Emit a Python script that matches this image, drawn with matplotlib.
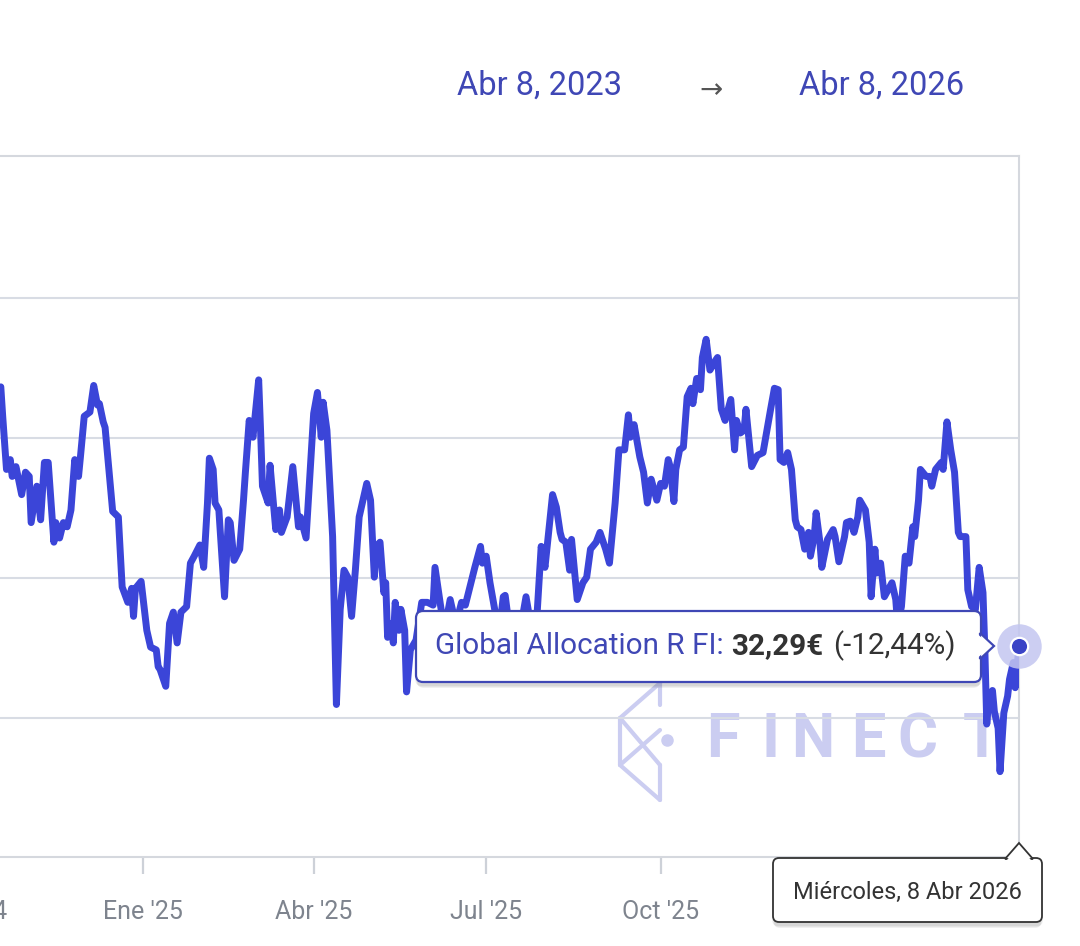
import matplotlib
matplotlib.use('Agg')
import matplotlib.pyplot as plt
import matplotlib.dates as mdates
import numpy as np
import pandas as pd
from matplotlib.patches import FancyBboxPatch, Polygon

plt.rcParams['font.family'] = ['Roboto', 'DejaVu Sans']

# ---------------- data ----------------
base_date = '2025-01-01'
day_offsets = [
    -81, -75, -74, -72, -70, -69, -67, -64, -62, -60, -59, -56, -54, -52, -50, -47, -46, -44, -42, -40,
    -38, -36, -34, -33, -31, -28, -26, -24, -23, -21, -20, -16, -13, -11, -8, -6, -5, -4, -1, 2,
    4, 7, 8, 9, 12, 14, 16, 18, 20, 23, 25, 27, 30, 32, 34, 35, 37, 38, 40, 43,
    45, 46, 48, 51, 53, 54, 56, 58, 61, 62, 63, 66, 67, 70, 72, 73, 76, 79, 82, 83,
    86, 90, 92, 94, 95, 97, 100, 102, 104, 106, 108, 110, 112, 114, 118, 120, 122, 123, 125, 127,
    128, 129, 131, 132, 133, 135, 136, 138, 139, 141, 144, 147, 150, 153, 154, 157, 159, 162, 165, 168,
    170, 175, 178, 179, 181, 183, 186, 188, 190, 191, 193, 198, 202, 204, 207, 210, 212, 216, 218, 220,
    221, 223, 225, 226, 229, 232, 234, 236, 239, 241, 244, 246, 249, 251, 254, 256, 257, 259, 262, 264,
    266, 268, 269, 271, 273, 275, 277, 278, 280, 281, 283, 285, 287, 289, 290, 292, 294, 295, 297, 299,
    302, 303, 305, 307, 310, 312, 313, 315, 317, 318, 321, 324, 327, 331, 333, 335, 336, 338, 340, 342,
    344, 345, 347, 349, 351, 352, 354, 355, 357, 358, 361, 364, 365, 367, 370, 371, 373, 375, 377, 378,
    381, 383, 384, 386, 387, 389, 391, 393, 395, 397, 398, 400, 402, 404, 406, 407, 409, 410, 413, 415,
    416, 418, 421, 422, 424, 426, 428, 430, 431, 434, 435, 437, 439, 441, 443, 444, 445, 446, 448, 449,
    451, 452, 454, 456, 457, 459, 460, 462,
]
nav_eur = [
    34.05, 34.14, 33.93, 33.55, 33.62, 33.50, 33.57, 33.37, 33.53, 33.50, 33.17, 33.43, 33.19, 33.60, 33.60, 33.03, 33.17, 33.06, 33.17, 33.14,
    33.26, 33.62, 33.50, 33.64, 33.93, 33.96, 34.15, 34.01, 34.02, 33.89, 33.85, 33.25, 33.21, 32.71, 32.60, 32.70, 32.50, 32.70, 32.75, 32.40,
    32.28, 32.26, 32.14, 32.12, 32.00, 32.45, 32.53, 32.31, 32.53, 32.57, 32.88, 32.93, 33.01, 32.85, 33.31, 33.63, 33.55, 33.31, 33.26, 32.64,
    33.19, 33.17, 32.90, 32.98, 33.33, 33.53, 33.90, 33.78, 34.19, 33.83, 33.43, 33.31, 33.58, 33.12, 33.26, 33.10, 33.21, 33.57, 33.14, 33.21,
    33.06, 33.95, 34.10, 33.78, 34.03, 33.83, 33.07, 31.87, 32.55, 32.83, 32.78, 32.50, 32.83, 33.21, 33.45, 33.33, 32.78, 33.00, 33.03, 32.67,
    32.74, 32.35, 32.45, 32.31, 32.60, 32.40, 32.55, 32.40, 31.96, 32.26, 32.33, 32.60, 32.60, 32.58, 32.85, 32.57, 32.40, 32.62, 32.44, 32.60,
    32.58, 32.85, 33.00, 32.88, 32.93, 32.74, 32.51, 32.40, 32.64, 32.65, 32.44, 32.33, 32.64, 32.48, 32.33, 33.00, 32.85, 33.37, 33.28, 33.10,
    33.05, 33.03, 32.83, 33.05, 32.62, 32.74, 32.78, 32.98, 33.03, 33.10, 32.98, 32.88, 33.31, 33.69, 33.69, 33.94, 33.78, 33.87, 33.64, 33.53,
    33.31, 33.48, 33.43, 33.33, 33.45, 33.43, 33.62, 33.57, 33.32, 33.55, 33.69, 33.71, 34.07, 34.13, 34.02, 34.20, 34.12, 34.35, 34.48, 34.26,
    34.33, 34.35, 33.98, 33.90, 34.05, 33.69, 33.90, 33.81, 33.83, 33.98, 33.57, 33.65, 33.67, 33.98, 34.13, 34.12, 33.62, 33.60, 33.67, 33.55,
    33.19, 33.14, 33.12, 32.98, 33.10, 32.93, 33.07, 33.24, 33.03, 32.85, 33.05, 33.12, 33.07, 32.89, 33.07, 33.17, 33.18, 33.10, 33.21, 33.33,
    33.26, 33.03, 32.64, 32.98, 32.81, 32.88, 32.64, 32.69, 32.74, 32.62, 32.44, 32.57, 32.93, 32.88, 33.14, 33.07, 33.33, 33.55, 33.50, 33.50,
    33.43, 33.55, 33.60, 33.55, 33.89, 33.69, 33.53, 33.10, 33.07, 33.07, 32.69, 32.57, 32.55, 32.85, 32.67, 32.26, 31.73, 31.90, 31.97, 31.82,
    31.70, 31.39, 31.81, 31.93, 32.05, 32.17, 31.99, 32.29,
]
fund_name = 'Global Allocation R FI'
last_price_label = '32,29€'
change_label = '(-12,44%)'
tooltip_date = 'Miércoles, 8 Abr 2026'
range_start = 'Abr 8, 2023'
range_end = 'Abr 8, 2026'
tick_dates = ['2024-10-01', '2025-01-01', '2025-04-01', '2025-07-01', '2025-10-01', '2026-01-01']
# the Jan '26 label sits under the date tooltip in the screenshot, so it is left blank
tick_labels = ["Oct '24", "Ene '25", "Abr '25", "Jul '25", "Oct '25", ""]
y_limits = (30.78, 35.79)
grid_values = [31.775, 32.775, 33.775, 34.775]

# ---------------- figure ----------------
W, H = 1080, 946
fig = plt.figure(figsize=(W / 100, H / 100), dpi=100)
fig.patch.set_facecolor('white')

dates = pd.Timestamp(base_date) + pd.to_timedelta(day_offsets, unit='D')
x_left = pd.Timestamp(base_date) - pd.Timedelta(days=100)
x_right = dates[-1]

# background overlay (watermark)
bg = fig.add_axes([0, 0, 1, 1], zorder=0)
bg.set_xlim(0, W); bg.set_ylim(H, 0); bg.axis('off')

# main axes (left edge lies outside the cropped screenshot)
left_px, right_px, top_px, bot_px = -46.6, 1019, 156, 857
ax = fig.add_axes([left_px / W, 1 - bot_px / H, (right_px - left_px) / W, (bot_px - top_px) / H], zorder=1)
ax.set_facecolor('none')
ax.set_xlim(x_left, x_right)
ax.set_ylim(*y_limits)

line_color = '#3b45d8'
ax.plot(dates, nav_eur, color=line_color, lw=5.0, solid_joinstyle='round',
        solid_capstyle='round', zorder=3)
ax.plot(dates[-1], nav_eur[-1], 'o', ms=32, color='#c3c6f0', mec='none', alpha=0.85,
        clip_on=False, zorder=4)
ax.plot(dates[-1], nav_eur[-1], 'o', ms=12.5, mfc='#3a43c6', mec='white', mew=1.6,
        clip_on=False, zorder=5)

ax.set_yticks(grid_values)
ax.yaxis.grid(True, color='#d8dce4', lw=1.5)
ax.xaxis.grid(False)
ax.tick_params(axis='y', length=0, labelleft=False)
ax.set_xticks([mdates.date2num(pd.Timestamp(d)) for d in tick_dates])
ax.set_xticklabels(tick_labels)
ax.tick_params(axis='x', length=12, width=1.6, color='#cdd1d8', labelsize=18,
               labelcolor='#7e848e', pad=19)
for s in ['top', 'right', 'bottom']:
    ax.spines[s].set_color('#d5d8de')
    ax.spines[s].set_linewidth(1.5)
ax.spines['left'].set_visible(False)
ax.set_axisbelow(True)

# watermark
wm = '#cbcdf1'
for ch, cx in zip('FINECT', [723, 770, 813, 868, 917, 982]):
    bg.text(cx, 740, ch, fontsize=44, color=wm, ha='center', va='center', fontweight='bold')
bg.plot([667], [740], 'o', ms=8, color=wm)
logo = [[(660, 683), (620, 718)], [(660, 683), (660, 705)], [(620, 718), (620, 765)],
        [(620, 718), (660, 765)], [(620, 765), (660, 800)], [(660, 765), (660, 800)],
        [(620, 765), (660, 730)]]
for seg in logo:
    bg.plot([seg[0][0], seg[1][0]], [seg[0][1], seg[1][1]], color=wm, lw=3, solid_capstyle='round')

# foreground overlay
fg = fig.add_axes([0, 0, 1, 1], zorder=2)
fg.set_xlim(0, W); fg.set_ylim(H, 0); fg.axis('off')

head_color = '#3f47b5'
fg.text(457, 86, range_start, fontsize=23.5, color=head_color, ha='left', va='center')
fg.text(711, 90, '→', fontsize=20, color='#555555', ha='center', va='center', family=['DejaVu Sans'])
fg.text(799, 86, range_end, fontsize=23.5, color=head_color, ha='left', va='center')


def shadow_box(x, y, w, h, r):
    for i, a in enumerate([0.05, 0.05, 0.06]):
        fg.add_patch(FancyBboxPatch((x - 1 + i, y + 2 + i), w + 2 - 2 * i, h + 2,
                                    boxstyle=f'round,pad=0,rounding_size={r}',
                                    fc='black', ec='none', alpha=a))


# value tooltip
bx, by, bw, bh = 416, 611, 565, 71
shadow_box(bx, by, bw, bh, 7)
fg.add_patch(FancyBboxPatch((bx, by), bw, bh, boxstyle='round,pad=0,rounding_size=7',
                            fc='white', ec=head_color, lw=1.6))
fg.add_patch(Polygon([(bx + bw - 1, 633), (bx + bw + 13, 646), (bx + bw - 1, 659)], closed=True,
                     fc='white', ec=head_color, lw=1.6))
fg.add_patch(Polygon([(bx + bw - 3, 634.5), (bx + bw + 10, 646), (bx + bw - 3, 657.5)], closed=True,
                     fc='white', ec='none'))

fig.canvas.draw()
renderer = fig.canvas.get_renderer()
fs = 21.3
t1 = fg.text(435, 646, fund_name + ':', fontsize=fs, color=head_color, ha='left', va='center')
e1 = t1.get_window_extent(renderer)
t2 = fg.text(e1.x1 + 8, 646, last_price_label, fontsize=fs, color='#333333', fontweight='bold',
             ha='left', va='center')
e2 = t2.get_window_extent(renderer)
fg.text(e2.x1 + 9, 646, change_label, fontsize=fs, color='#333333', ha='left', va='center')

# date tooltip
dx, dy, dw, dh = 773, 858, 269, 64
shadow_box(dx, dy, dw, dh, 6)
fg.add_patch(FancyBboxPatch((dx, dy), dw, dh, boxstyle='round,pad=0,rounding_size=6',
                            fc='white', ec='#333333', lw=1.3))
fg.add_patch(Polygon([(1005, dy + 1), (1019, 843), (1033, dy + 1)], closed=True,
                     fc='white', ec='#333333', lw=1.3))
fg.add_patch(Polygon([(1007, dy + 2), (1019, 846), (1031, dy + 2)], closed=True, fc='white', ec='none'))
fg.text(dx + dw / 2, 892, tooltip_date, fontsize=17, color='#333333', ha='center', va='center')

fig.savefig('out.png', dpi=100, facecolor='white')
